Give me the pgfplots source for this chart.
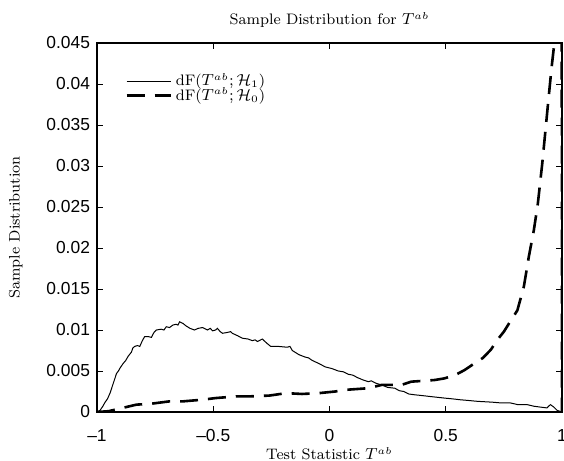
\documentclass[border=0pt]{standalone}
\usepackage{pgfplots}
\pgfplotsset{compat=1.18}
\usepackage{fontspec}
\newfontfamily\hel{Liberation Sans}

% sample distribution under H1 (solid)
\pgfplotstableread{
x y
-1.000 0.0000
-0.987 0.0002
-0.975 0.0007
-0.965 0.0012
-0.955 0.0016
-0.944 0.0023
-0.930 0.0035
-0.916 0.0047
-0.908 0.0050
-0.900 0.0054
-0.888 0.0059
-0.876 0.0063
-0.866 0.0068
-0.852 0.0073
-0.846 0.0078
-0.838 0.0080
-0.826 0.0081
-0.816 0.0080
-0.805 0.0087
-0.795 0.0092
-0.780 0.0092
-0.766 0.0091
-0.755 0.0097
-0.745 0.0100
-0.724 0.0101
-0.712 0.0100
-0.702 0.0104
-0.688 0.0103
-0.674 0.0106
-0.660 0.0107
-0.652 0.0106
-0.645 0.0110
-0.638 0.0109
-0.630 0.0108
-0.617 0.0105
-0.600 0.0102
-0.590 0.0101
-0.581 0.0100
-0.565 0.0102
-0.546 0.0103
-0.525 0.0100
-0.513 0.0102
-0.503 0.0099
-0.490 0.0100
-0.482 0.0102
-0.470 0.0098
-0.460 0.0096
-0.440 0.0097
-0.425 0.0098
-0.418 0.0096
-0.395 0.0093
-0.375 0.0090
-0.350 0.0089
-0.332 0.0087
-0.320 0.0088
-0.310 0.0086
-0.289 0.0089
-0.270 0.0084
-0.253 0.0080
-0.220 0.0080
-0.182 0.0079
-0.170 0.0080
-0.160 0.0075
-0.132 0.0070
-0.105 0.0067
-0.090 0.0066
-0.075 0.0063
-0.045 0.0059
-0.018 0.0055
 0.010 0.0053
 0.038 0.0050
 0.060 0.0049
 0.081 0.0046
 0.100 0.0045
 0.120 0.0042
 0.145 0.0039
 0.167 0.0037
 0.180 0.0038
 0.200 0.0035
 0.225 0.0033
 0.250 0.0030
 0.281 0.0029
 0.300 0.0026
 0.320 0.0025
 0.340 0.0022
 0.366 0.0021
 0.400 0.0020
 0.430 0.0019
 0.494 0.0017
 0.530 0.0016
 0.560 0.0015
 0.600 0.0014
 0.637 0.0013
 0.700 0.0012
 0.740 0.0011
 0.779 0.0011
 0.810 0.0009
 0.850 0.0009
 0.880 0.0007
 0.907 0.0006
 0.935 0.0005
 0.950 0.0009
 0.965 0.0006
 0.979 0.0002
 1.000 0.0000
}\tableHone

% sample distribution under H0 (dashed)
\pgfplotstableread{
x y
-1.000 0.0000
-0.950 0.0001
-0.920 0.0003
-0.830 0.0009
-0.770 0.0010
-0.688 0.0013
-0.630 0.0013
-0.547 0.0015
-0.490 0.0017
-0.403 0.0019
-0.350 0.0019
-0.260 0.0020
-0.186 0.0023
-0.118 0.0022
-0.046 0.0023
 0.024 0.0025
 0.067 0.0027
 0.167 0.0029
 0.224 0.0033
 0.309 0.0033
 0.352 0.0037
 0.452 0.0039
 0.494 0.0041
 0.540 0.0045
 0.580 0.0051
 0.622 0.0059
 0.660 0.0066
 0.694 0.0076
 0.722 0.0088
 0.750 0.0098
 0.772 0.0108
 0.808 0.0124
 0.836 0.0153
 0.857 0.0189
 0.879 0.0222
 0.896 0.0254
 0.915 0.0303
 0.929 0.0344
 0.943 0.0385
 0.954 0.0417
 0.967 0.0450
 0.985 0.0600
 0.998 0.0800
 1.000 0.0000
}\tableHzero

\begin{document}
\begin{tikzpicture}
\begin{axis}[
  scale only axis,
  width=232.5pt, height=184.5pt,
  xmin=-1, xmax=1, ymin=0, ymax=0.045,
  xtick={-1,-0.5,0,0.5,1},
  xticklabels={\textendash1,\textendash0.5,0,0.5,1},
  ytick={0,0.005,0.01,0.015,0.02,0.025,0.03,0.035,0.04,0.045},
  yticklabels={0,0.005,0.01,0.015,0.02,0.025,0.03,0.035,0.04,0.045},
  scaled y ticks=false,
  tick align=inside, tick pos=both,
  major tick length=3pt,
  every tick/.style={black, line width=0.5pt},
  axis line style={line width=0.9pt},
  ticklabel style={font=\hel\fontsize{8.7}{10}\selectfont},
  xticklabel style={yshift=-5pt},
  title={Sample Distribution for $T^{ab}$},
  title style={font=\fontsize{7.6}{9}\selectfont, yshift=-2pt},
  xlabel={Test Statistic $T^{ab}$},
  ylabel={Sample Distribution},
  label style={font=\fontsize{7.6}{9}\selectfont},
  xlabel style={yshift=4pt},
  ylabel style={yshift=5pt},
  legend style={draw=none, fill=none, at={(0.06,0.93)}, anchor=north west,
    font=\fontsize{7.6}{8}\selectfont, row sep=-4.5pt, inner sep=0pt},
  legend cell align=left,
  legend image code/.code={\draw[#1] (0pt,0pt) -- (22pt,0pt);},
]
  \addplot[black, line width=0.5pt] table {\tableHone};
  \addlegendentry{dF($T^{ab};\mathcal{H}_1$)}
  \addplot[black, line width=1.3pt, dash pattern=on 9pt off 5pt] table {\tableHzero};
  \addlegendentry{dF($T^{ab};\mathcal{H}_0$)}
\end{axis}
\pgfresetboundingbox
\path[use as bounding box] ([xshift=-48.5pt,yshift=-24pt]current axis.south west)
  rectangle ([xshift=1pt,yshift=21.5pt]current axis.north east);
\end{tikzpicture}
\end{document}
